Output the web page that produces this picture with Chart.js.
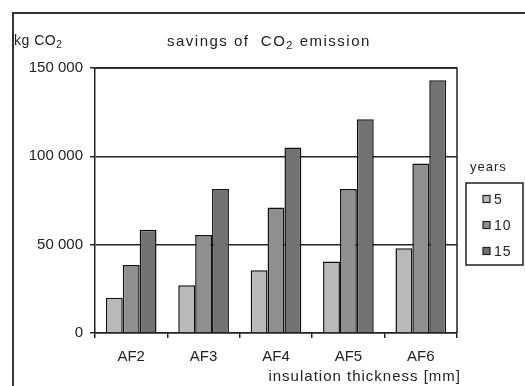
<!DOCTYPE html>
<html>
<head>
<meta charset="utf-8">
<script src="https://cdn.jsdelivr.net/npm/chart.js@4.4.1/dist/chart.umd.min.js"></script>
<style>
    html, body { margin: 0; padding: 0; background: #fff; overflow: hidden; }
    #wrap { position: relative; width: 525px; height: 386px; }
    #frame { position: absolute; left: 12px; top: 12px; width: 600px; height: 500px; border: 2px solid #333; box-sizing: border-box; }
    canvas { position: absolute; left: 0; top: 0; }
</style>
</head>
<body>
<div id="wrap">
    <div id="frame"></div>
    <canvas id="myChart" width="525" height="386"></canvas>
</div>
<script>
    const categories = ['AF2', 'AF3', 'AF4', 'AF5', 'AF6'];
    const years5 = [20000, 27000, 35500, 40500, 48000];
    const years10 = [38500, 55500, 71000, 81500, 96000];
    const years15 = [58500, 81500, 105000, 121000, 143000];
    const seriesNames = ['5', '10', '15'];
    const yTicks = [0, 50000, 100000, 150000];

    const ink = '#222';
    const fontFam = '"Liberation Sans", Arial, sans-serif';

    function fmt(v) {
        return String(v).replace(/\B(?=(\d{3})+(?!\d))/g, ' ');
    }

    // draws text with a subscript "2" after CO
    function drawParts(ctx, parts, x, y, size) {
        parts.forEach(p => {
            if (p.sub) {
                ctx.font = Math.round(size * 0.7) + 'px ' + fontFam;
                ctx.fillText(p.t, x, y + 3);
            } else {
                ctx.font = size + 'px ' + fontFam;
                ctx.fillText(p.t, x, y);
            }
            x += ctx.measureText(p.t).width;
        });
    }

    const extras = {
        id: 'extras',
        afterDraw(chart) {
            const ctx = chart.ctx;
            const a = chart.chartArea;
            ctx.save();
            // top + right border of plot
            ctx.strokeStyle = ink;
            ctx.lineWidth = 1.5;
            ctx.beginPath();
            ctx.moveTo(a.left, a.top);
            ctx.lineTo(a.right, a.top);
            ctx.lineTo(a.right, a.bottom);
            ctx.stroke();

            ctx.fillStyle = ink;
            ctx.textBaseline = 'alphabetic';
            ctx.textAlign = 'left';
            ctx.letterSpacing = '0.5px';
            drawParts(ctx, [{t: 'kg CO'}, {t: '2', sub: true}], 14, 45, 14);

            ctx.letterSpacing = '1.5px';
            drawParts(ctx, [{t: 'savings of  CO'}, {t: '2', sub: true}, {t: ' emission'}], 167, 46, 15);

            ctx.letterSpacing = '1px';
            ctx.font = '15px ' + fontFam;
            ctx.textAlign = 'right';
            ctx.fillText('insulation thickness [mm]', 461, 381);

            // legend
            ctx.letterSpacing = '1px';
            ctx.textAlign = 'left';
            ctx.font = '13px ' + fontFam;
            ctx.fillText('years', 470, 171);
            ctx.lineWidth = 1.5;
            ctx.strokeRect(466, 183, 57, 82);
            ctx.font = '14px ' + fontFam;
            ctx.textBaseline = 'middle';
            chart.data.datasets.forEach((ds, i) => {
                const yy = 199 + i * 26;
                ctx.fillStyle = ds.backgroundColor;
                ctx.fillRect(483, yy - 3.5, 7, 7);
                ctx.lineWidth = 1.2;
                ctx.strokeRect(483, yy - 3.5, 7, 7);
                ctx.fillStyle = ink;
                ctx.fillText(ds.label, 494, yy + 1);
            });
            ctx.restore();
        }
    };

    let ctx = document.getElementById('myChart');

    let myChart = new Chart(ctx, {
        type: 'bar',
        data: {
            labels: categories,
            datasets: [{
                label: seriesNames[0],
                data: years5,
                backgroundColor: '#b9b9b9',
                borderColor: '#111',
                borderWidth: 1.5
            }, {
                label: seriesNames[1],
                data: years10,
                backgroundColor: '#8f8f8f',
                borderColor: '#111',
                borderWidth: 1.5
            }, {
                label: seriesNames[2],
                data: years15,
                backgroundColor: '#727272',
                borderColor: '#111',
                borderWidth: 1.5
            }]
        },
        options: {
            responsive: false,
            animation: false,
            layout: {
                padding: { left: 0, top: 68, right: 68, bottom: 0 }
            },
            datasets: {
                bar: { categoryPercentage: 0.7, barPercentage: 1 }
            },
            scales: {
                x: {
                    grid: { offset: true, drawOnChartArea: false, color: ink, lineWidth: 1.5, tickLength: 5 },
                    border: { color: ink, width: 1.5 },
                    ticks: { color: ink, padding: 10, font: { family: fontFam, size: 15 } },
                    afterFit(s) { s.height = 53; }
                },
                y: {
                    min: 0,
                    max: 150000,
                    afterBuildTicks(s) { s.ticks = yTicks.map(v => ({ value: v })); },
                    grid: { color: ink, lineWidth: 1.5, tickLength: 5 },
                    border: { color: ink, width: 1.5 },
                    ticks: {
                        color: ink,
                        padding: 7,
                        font: { family: fontFam, size: 15 },
                        callback: v => fmt(v)
                    },
                    afterFit(s) { s.width = 95; }
                }
            },
            plugins: {
                legend: { display: false },
                tooltip: { enabled: false }
            }
        },
        plugins: [extras]
    });
</script>
</body>
</html>
